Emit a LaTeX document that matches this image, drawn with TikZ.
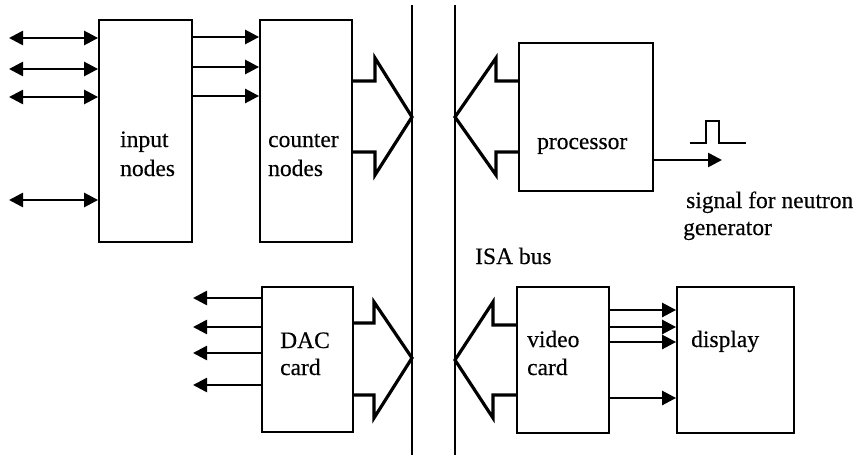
\documentclass[tikz,border=0pt]{standalone}
\usepackage{fontspec}
\setmainfont{Liberation Serif}[FakeBold=0.35]
\usetikzlibrary{arrows.meta,calc}
\begin{document}
\begin{tikzpicture}[x=1pt,y=-1pt,
  box/.style={draw,line width=1.8pt,minimum width=#1,inner sep=0pt},
  lbl/.style={anchor=base west,inner sep=0pt,font=\fontsize{23.5}{29}\selectfont},
  arr/.style={line width=2.6pt,-{Triangle[length=14pt,width=14pt]}},
  darr/.style={line width=2.6pt,{Triangle[length=14pt,width=14pt]}-{Triangle[length=14pt,width=14pt]}},
  hollow/.style={line width=3.2pt,line join=miter},
  bus/.style={line width=2.5pt}]
\useasboundingbox (0,0) rectangle (855,455);
% boxes
\node[box=93pt,minimum height=222pt] (inp) at (145.5,131) {};
\node[box=92pt,minimum height=222pt] (cnt) at (306,131) {};
\node[box=134pt,minimum height=148pt] (proc) at (586,117) {};
\node[box=91pt,minimum height=145pt] (dac) at (307.5,359.5) {};
\node[box=92pt,minimum height=146pt] (vid) at (563,360) {};
\node[box=117pt,minimum height=146pt] (disp) at (735.5,360) {};
% texts
\node[lbl] (tinp1) at (120,147) {input};
\node[lbl] (tinp2) at (120,176) {nodes};
\node[lbl] (tcnt1) at (268,147) {counter};
\node[lbl] (tcnt2) at (268,176) {nodes};
\node[lbl] (tproc) at (537,149) {processor};
\node[lbl] (tdac1) at (280,348) {DAC};
\node[lbl] (tdac2) at (280,375) {card};
\node[lbl] (tvid1) at (527,347) {video};
\node[lbl] (tvid2) at (527,375) {card};
\node[lbl] (tdisp) at (691,347) {display};
\node[lbl] (tsig) at (686,208) {signal for neutron};
\node[lbl] (tgen) at (683,235) {generator};
\node[lbl] (tisa) at (475,264) {ISA bus};
% bus lines
\coordinate (b1t) at (412,5); \coordinate (b1b) at (412,455);
\coordinate (b2t) at (455,5); \coordinate (b2b) at (455,455);
\draw[bus] (b1t) -- (b1b);
\draw[bus] (b2t) -- (b2b);
% input arrows
\foreach \y/\n in {38/a,69/b,97/c,200/d}{
  \coordinate (l\n) at (9,\y);
  \draw[darr] (l\n) -- (inp.west |- l\n);
}
% input -> counter
\foreach \y in {37,67,96}{
  \draw[arr] (inp.east |- 0,\y) -- (cnt.west |- 0,\y);
}
% DAC outputs
\foreach \y/\n in {298/a,327/b,353/c,385/d}{
  \coordinate (o\n) at (193,\y);
  \draw[arr] (dac.west |- o\n) -- (o\n);
}
% video -> display
\foreach \y in {310,327,342,398}{
  \draw[arr] (vid.east |- 0,\y) -- (disp.west |- 0,\y);
}
% hollow arrows to bus
\draw[hollow] (cnt.east |- 0,81) -- (375,81) -- (375,58) -- (b1t |- 0,117) -- (375,175) -- (375,152) -- (cnt.east |- 0,152);
\draw[hollow] (dac.east |- 0,323) -- (374,323) -- (374,302) -- (b1t |- 0,358) -- (374,418) -- (374,395) -- (dac.east |- 0,395);
\draw[hollow] (proc.west |- 0,81) -- (496,81) -- (496,58) -- (b2t |- 0,117) -- (496,175) -- (496,152) -- (proc.west |- 0,152);
\draw[hollow] (vid.west |- 0,325) -- (493,325) -- (493,302) -- (b2t |- 0,360) -- (493,418) -- (493,395) -- (vid.west |- 0,395);
% processor output and pulse
\coordinate (sigend) at (722,160);
\draw[arr] (proc.east |- sigend) -- (sigend);
\draw[line width=2.4pt] (690,143) -- (706,143) -- (706,121) -- (719,121) -- (719,143) -- (746,143);
\end{tikzpicture}
\end{document}
